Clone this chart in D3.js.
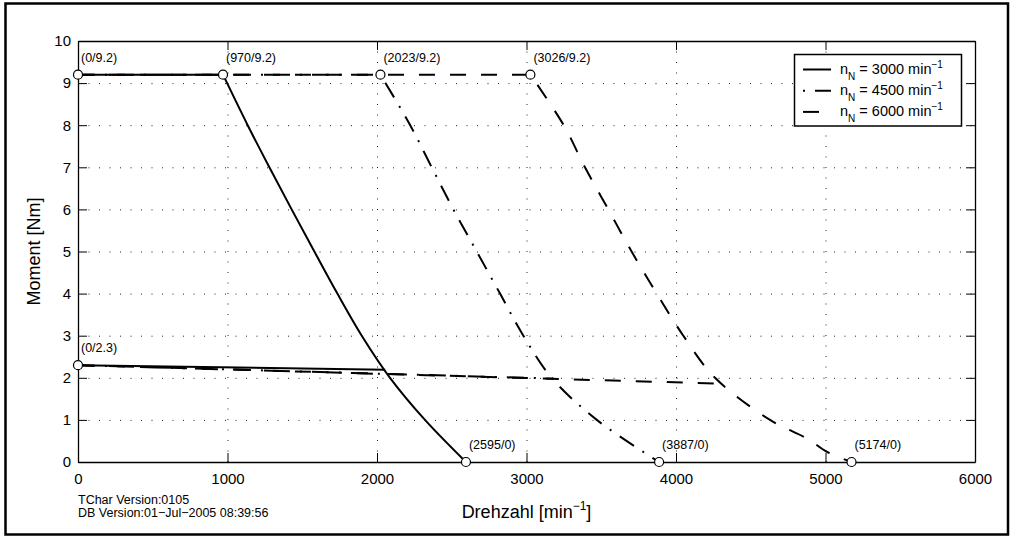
<!DOCTYPE html>
<html lang="de">
<head>
    <meta charset="UTF-8">
    <title>Drehzahl-Moment Kennlinie</title>
    <script src="https://d3js.org/d3.v7.min.js"></script>
    <style>
        body { margin: 0; background: #fff; }
        svg text { font-family: "Liberation Sans", Arial, Helvetica, sans-serif; fill: #000; }
    </style>
</head>
<body>
    <div id="chart"></div>
    <script>
        // Series names (rated speed n_N)
        const seriesNames = ["3000", "4500", "6000"];

        // Torque curves: [speed min^-1, torque Nm]
        // first point = flat part start, second = corner, rest = falling part
        const curve3000 = [[0, 9.2], [970, 9.2], [1135, 8], [1280, 7], [1429, 6], [1581, 5], [1735, 4], [1898, 3], [2087, 2], [2321, 1], [2595, 0]];
        const curve4500 = [[0, 9.2], [2023, 9.2], [2222, 8], [2366, 7], [2511, 6], [2667, 5], [2823, 4], [2979, 3], [3168, 2], [3470, 1], [3887, 0]];
        const curve6000 = [[0, 9.2], [3026, 9.2], [3249, 8], [3391, 7], [3547, 6], [3703, 5], [3871, 4], [4049, 3], [4261, 2], [4629, 1], [4880, 0.55], [5010, 0.24], [5174, 0]];

        // Continuous torque lines
        const s1Line3000 = [[0, 2.3], [2055, 2.19]];
        const s1Line4500 = [[0, 2.3], [3185, 1.98]];
        const s1Line6000 = [[0, 2.3], [4310, 1.86]];

        // Marked points with labels
        const markedPoints = [[0, 9.2], [970, 9.2], [2023, 9.2], [3026, 9.2], [0, 2.3], [2595, 0], [3887, 0], [5174, 0]];

        // Axis ticks
        const xTicks = [0, 1000, 2000, 3000, 4000, 5000, 6000];
        const yTicks = [0, 1, 2, 3, 4, 5, 6, 7, 8, 9, 10];

        const curves = [curve3000, curve4500, curve6000];
        const s1Lines = [s1Line3000, s1Line4500, s1Line6000];
        const dashes = [null, "17,10,2,10", "16,15"];

        const W = 1012, H = 539;
        const margin = { left: 78, right: W - 975, top: 41, bottom: H - 462 };

        const svg = d3.select("#chart").append("svg")
            .attr("width", W)
            .attr("height", H);

        // outer frame
        svg.append("rect")
            .attr("x", 5.5).attr("y", 3.5)
            .attr("width", 1002.5).attr("height", 531)
            .attr("fill", "none")
            .attr("stroke", "#000")
            .attr("stroke-width", 2.5);

        const x = d3.scaleLinear().domain([0, 6000]).range([margin.left, W - margin.right]);
        const y = d3.scaleLinear().domain([0, 10]).range([H - margin.bottom, margin.top]);

        // dotted grid
        const grid = svg.append("g");
        grid.selectAll(".gx")
            .data(xTicks.slice(1, -1))
            .join("line")
            .attr("x1", d => x(d) + 0.5).attr("x2", d => x(d) + 0.5)
            .attr("y1", y(10)).attr("y2", y(0))
            .attr("stroke", "#222").attr("stroke-width", 1)
            .attr("stroke-dasharray", "1,9.5");
        grid.selectAll(".gy")
            .data(yTicks.slice(1, -1))
            .join("line")
            .attr("x1", x(0)).attr("x2", x(6000))
            .attr("y1", d => y(d) + 0.5).attr("y2", d => y(d) + 0.5)
            .attr("stroke", "#222").attr("stroke-width", 1)
            .attr("stroke-dasharray", "1,9.5");

        // axes, ticks pointing inward
        function styleAxis(g) {
            g.select(".domain").attr("stroke-width", 1.3);
            g.selectAll(".tick line").attr("stroke-width", 1);
            g.selectAll("text").attr("font-size", "15px");
        }
        svg.append("g")
            .attr("transform", `translate(0,${y(0)})`)
            .call(d3.axisBottom(x).tickValues(xTicks).tickFormat(d3.format("d")).tickSizeInner(-9).tickSizeOuter(0).tickPadding(11))
            .call(styleAxis);
        svg.append("g")
            .attr("transform", `translate(0,${y(10)})`)
            .call(d3.axisTop(x).tickValues(xTicks).tickSizeInner(-9).tickSizeOuter(0).tickFormat(""))
            .call(styleAxis);
        svg.append("g")
            .attr("transform", `translate(${x(0)},0)`)
            .call(d3.axisLeft(y).tickValues(yTicks).tickSizeInner(-9).tickSizeOuter(0).tickPadding(7))
            .call(styleAxis);
        svg.append("g")
            .attr("transform", `translate(${x(6000)},0)`)
            .call(d3.axisRight(y).tickValues(yTicks).tickSizeInner(-9).tickSizeOuter(0).tickFormat(""))
            .call(styleAxis);
        svg.selectAll(".domain, .tick line").attr("stroke", "#000");
        svg.selectAll(".tick text").attr("font-family", "Liberation Sans, Arial, sans-serif");

        const line = d3.line().x(d => x(d[0])).y(d => y(d[1]));
        const smooth = d3.line().x(d => x(d[0])).y(d => y(d[1])).curve(d3.curveCatmullRom.alpha(0.5));

        // flat part as straight line, falling part smoothed, one path so the dash runs on
        function torquePath(data) {
            const fall = smooth(data.slice(1));
            return `M${x(data[0][0])},${y(data[0][1])}L` + fall.slice(1);
        }

        // curves (draw last series first so solid sits on top)
        [2, 1, 0].forEach(i => {
            svg.append("path")
                .datum(curves[i])
                .attr("fill", "none")
                .attr("stroke", "#000")
                .attr("stroke-width", 2)
                .attr("stroke-dasharray", dashes[i])
                .attr("d", torquePath);
            svg.append("path")
                .datum(s1Lines[i])
                .attr("fill", "none")
                .attr("stroke", "#000")
                .attr("stroke-width", 2)
                .attr("stroke-dasharray", dashes[i])
                .attr("d", line);
        });

        // marked points with labels
        svg.selectAll(".pt")
            .data(markedPoints)
            .join("circle")
            .attr("cx", d => x(d[0]))
            .attr("cy", d => y(d[1]))
            .attr("r", 4.5)
            .attr("fill", "#fff")
            .attr("stroke", "#000")
            .attr("stroke-width", 1.2);
        svg.selectAll(".ptlabel")
            .data(markedPoints)
            .join("text")
            .attr("x", d => x(d[0]) + 3)
            .attr("y", d => y(d[1]) - 13)
            .attr("font-size", "12.5px")
            .text(d => `(${d[0]}/${d[1]})`);

        // legend
        const lg = svg.append("g");
        lg.append("rect")
            .attr("x", 794.5).attr("y", 54.5)
            .attr("width", 167).attr("height", 71.5)
            .attr("fill", "#fff")
            .attr("stroke", "#000")
            .attr("stroke-width", 1.5);
        seriesNames.forEach((name, i) => {
            const by = 73.5 + i * 21.2;
            lg.append("line")
                .attr("x1", 803).attr("x2", 831)
                .attr("y1", by - 4).attr("y2", by - 4)
                .attr("stroke", "#000")
                .attr("stroke-width", 2)
                .attr("stroke-dasharray", dashes[i])
                .attr("stroke-dashoffset", i === 1 ? 27 : 0);
            const t = lg.append("text").attr("x", 840).attr("y", by).attr("font-size", "14.5px");
            t.append("tspan").text("n");
            t.append("tspan").attr("font-size", "10px").attr("dy", 6).text("N");
            t.append("tspan").attr("dy", -6).text(` = ${name} min`);
            t.append("tspan").attr("font-size", "10px").attr("dy", -6).text("\u22121");
        });

        // axis labels
        const xl = svg.append("text")
            .attr("x", (x(0) + x(6000)) / 2)
            .attr("y", 518)
            .attr("text-anchor", "middle")
            .attr("font-size", "18px");
        xl.append("tspan").text("Drehzahl [min");
        xl.append("tspan").attr("font-size", "12px").attr("dy", -8).text("\u22121");
        xl.append("tspan").attr("dy", 8).text("]");

        svg.append("text")
            .attr("transform", `translate(40,${(y(0) + y(10)) / 2}) rotate(-90)`)
            .attr("text-anchor", "middle")
            .attr("font-size", "18px")
            .text("Moment [Nm]");

        // version info
        svg.append("text").attr("x", 78).attr("y", 503.5).attr("font-size", "12.5px")
            .text("TChar Version:0105");
        svg.append("text").attr("x", 78).attr("y", 517).attr("font-size", "12.5px")
            .text("DB Version:01\u2212Jul\u22122005 08:39:56");
    </script>
</body>
</html>
